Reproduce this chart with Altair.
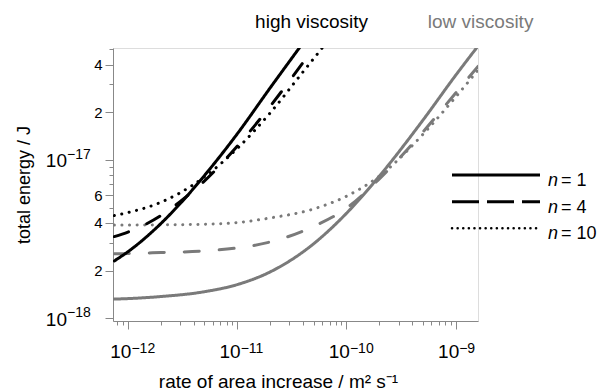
import altair as alt
import pandas as pd

FONT = "Liberation Sans"

# ---- data (x: rate of area increase m^2/s, y: total energy J)
hv_n1_x = [7.5e-13, 1e-12, 2e-12, 3e-12, 5e-12, 7e-12, 1e-11, 2e-11, 3.7e-11]
hv_n1_y = [2.3e-18, 2.63e-18, 3.96e-18, 5.29e-18, 7.95e-18, 1.06e-17, 1.46e-17, 2.85e-17, 5.1e-17]

hv_n4_x = [7.5e-13, 1e-12, 2e-12, 3e-12, 5e-12, 1e-11, 2e-11, 3e-11, 4.9e-11]
hv_n4_y = [3.28e-18, 3.5e-18, 4.45e-18, 5.45e-18, 7.35e-18, 1.22e-17, 2.18e-17, 3.15e-17, 5.0e-17]

hv_n10_x = [7.5e-13, 1e-12, 2e-12, 3e-12, 5e-12, 1e-11, 2e-11, 4e-11, 6e-11]
hv_n10_y = [4.45e-18, 4.65e-18, 5.4e-18, 6.2e-18, 7.8e-18, 1.18e-17, 1.98e-17, 3.6e-17, 5.1e-17]

lv_n1_x = [7.5e-13, 1e-12, 2e-12, 5e-12, 1e-11, 2e-11, 5e-11, 1e-10, 2e-10, 5e-10, 1e-9, 1.55e-9]
lv_n1_y = [1.32e-18, 1.33e-18, 1.37e-18, 1.47e-18, 1.63e-18, 1.96e-18, 2.95e-18, 4.6e-18, 7.9e-18, 1.78e-17, 3.43e-17, 5.1e-17]

lv_n4_x = [7.5e-13, 1e-12, 2e-12, 5e-12, 1e-11, 2e-11, 5e-11, 1e-10, 2e-10, 5e-10, 1e-9, 1.6e-9]
lv_n4_y = [2.55e-18, 2.56e-18, 2.6e-18, 2.66e-18, 2.78e-18, 3.03e-18, 3.8e-18, 4.95e-18, 7.6e-18, 1.5e-17, 2.65e-17, 3.9e-17]

lv_n10_x = [7.5e-13, 1e-12, 2e-12, 5e-12, 1e-11, 2e-11, 5e-11, 1e-10, 2e-10, 5e-10, 1e-9, 1.6e-9]
lv_n10_y = [3.88e-18, 3.88e-18, 3.89e-18, 3.92e-18, 4.02e-18, 4.3e-18, 4.9e-18, 5.9e-18, 7.9e-18, 1.45e-17, 2.5e-17, 3.7e-17]

n_values = ["1", "4", "10"]
viscosity = ["high viscosity", "low viscosity"]
viscosity_label_x = [4.8e-11, 1.69e-9]

x_decades = [1e-12, 1e-11, 1e-10, 1e-9]
x_decade_exp = ["−12", "−11", "−10", "−9"]
y_decades = [1e-18, 1e-17]
y_decade_exp = ["−18", "−17"]

x_domain = [7.3e-13, 1.6e-9]
y_domain = [9.6e-19, 5.1e-17]

# ---- build tables
rows = []
series = {
    ("high viscosity", "1"): (hv_n1_x, hv_n1_y),
    ("high viscosity", "4"): (hv_n4_x, hv_n4_y),
    ("high viscosity", "10"): (hv_n10_x, hv_n10_y),
    ("low viscosity", "1"): (lv_n1_x, lv_n1_y),
    ("low viscosity", "4"): (lv_n4_x, lv_n4_y),
    ("low viscosity", "10"): (lv_n10_x, lv_n10_y),
}
for (v, n), (xs, ys) in series.items():
    for i, (xv, yv) in enumerate(zip(xs, ys)):
        rows.append({"visc": v, "n": n, "x": xv, "y": yv, "order": i})
df = pd.DataFrame(rows)

xscale = alt.Scale(type="log", domain=x_domain, nice=False)
yscale = alt.Scale(type="log", domain=y_domain, nice=False)

dash_scale = alt.Scale(domain=n_values, range=[[1, 0], [15, 20], [0.1, 7.5]])
color_scale = alt.Scale(domain=viscosity, range=["#000000", "#7a7a7a"])

MANT = "round(datum.value / pow(10, floor(log(datum.value) / LN10 + 1e-6)))"

x_ticks = [float(f"{m}e{e}") for e in range(-13, -8) for m in range(1, 10)]
x_ticks = [t for t in x_ticks if x_domain[0] <= t <= x_domain[1]]
y_ticks = [float(f"{m}e{e}") for e in range(-19, -16) for m in range(1, 10)]
y_ticks = [t for t in y_ticks if y_domain[0] <= t <= y_domain[1] * 1.001]

y_label_expr = f"({MANT} == 2 || {MANT} == 4 || {MANT} == 6) ? '' + {MANT} : ''"

x_axis = alt.Axis(
    values=x_ticks, labels=False, grid=False,
    title="rate of area increase / m² s⁻¹",
    tickSize={"condition": {"test": f"{MANT} == 1", "value": 8}, "value": 4},
    titleFontSize=19, titleFontWeight="normal", titleX=165, titleY=66,
    titleBaseline="alphabetic", titleAlign="center",
)
y_axis = alt.Axis(
    values=y_ticks, labelExpr=y_label_expr, grid=False,
    title="total energy / J",
    tickSize={"condition": {"test": f"{MANT} == 1 || {MANT} == 2 || {MANT} == 4 || {MANT} == 6",
                            "value": 8}, "value": 4},
    labelFontSize=15, labelOverlap=False, labelFlush=False, labelPadding=3,
    titleFontSize=18, titleFontWeight="normal", titleX=-84, titleY=136.5,
    titleBaseline="alphabetic", titleAlign="center", titleAngle=270,
)

base = alt.Chart(df)


def lines(v):
    return base.transform_filter(alt.datum.visc == v).mark_line(
        strokeWidth=3, strokeCap="round", clip=True, interpolate="monotone"
    ).encode(
        x=alt.X("x:Q", scale=xscale, axis=x_axis),
        y=alt.Y("y:Q", scale=yscale, axis=y_axis),
        color=alt.Color("visc:N", scale=color_scale, legend=None),
        strokeDash=alt.StrokeDash("n:N", scale=dash_scale, legend=None),
        detail="n:N",
        order="order:Q",
    )


lab_df = pd.DataFrame({"label": viscosity, "x": viscosity_label_x})
vlabels = alt.Chart(lab_df).mark_text(
    fontSize=19, font=FONT, baseline="middle", align="center"
).encode(
    x=alt.X("x:Q", scale=xscale),
    y=alt.value(-26),
    text="label:N",
    color=alt.Color("label:N", scale=alt.Scale(domain=viscosity, range=["#000000", "#a8a8a8"]), legend=None),
)

# decade tick labels with raised exponents
xd = pd.DataFrame({"x": x_decades, "e": x_decade_exp})
x_ten = alt.Chart(xd).mark_text(fontSize=19, font=FONT, align="right", baseline="alphabetic",
                                dx=3.5, color="#000").encode(
    x=alt.X("x:Q", scale=xscale), y=alt.value(310), text=alt.value("10"))
x_exp = alt.Chart(xd).mark_text(fontSize=14, font=FONT, align="left", baseline="alphabetic",
                                dx=3.5, color="#000").encode(
    x=alt.X("x:Q", scale=xscale), y=alt.value(305), text="e:N")

yd = pd.DataFrame({"y": y_decades, "e": y_decade_exp})
y_ten = alt.Chart(yd).mark_text(fontSize=19, font=FONT, align="right", baseline="alphabetic",
                                dy=7.5, color="#000").encode(
    y=alt.Y("y:Q", scale=yscale), x=alt.value(-46), text=alt.value("10"))
y_exp = alt.Chart(yd).mark_text(fontSize=14, font=FONT, align="left", baseline="alphabetic",
                                dy=-1.3, color="#000").encode(
    y=alt.Y("y:Q", scale=yscale), x=alt.value(-46), text="e:N")

# manual legend (pixel positions relative to the plot area)
legend_dash = [[1, 0], [27, 8], [0.1, 5.5]]
legend_rows_y = [127, 153.7, 180.3]
legend_layers = []
for n, dash, ly in zip(n_values, legend_dash, legend_rows_y):
    ldf = pd.DataFrame({"n": [n]})
    legend_layers.append(
        alt.Chart(ldf).mark_rule(stroke="#000000", strokeWidth=3 if n != "10" else 2.5,
                                 strokeDash=dash, strokeCap="butt" if n != "10" else "round").encode(
            x=alt.value(339), x2=alt.value(427), y=alt.value(ly)
        )
    )
    legend_layers.append(
        alt.Chart(ldf).mark_text(fontSize=18, font=FONT, fontStyle="italic", align="left",
                                 baseline="alphabetic", color="#000").encode(
            x=alt.value(435), y=alt.value(ly + 11), text=alt.value("n")
        )
    )
    legend_layers.append(
        alt.Chart(ldf).transform_calculate(lbl="'= ' + datum.n").mark_text(
            fontSize=18, font=FONT, align="left", baseline="alphabetic", color="#000").encode(
            x=alt.value(448), y=alt.value(ly + 11), text="lbl:N"
        )
    )

chart = alt.layer(
    lines("low viscosity"), lines("high viscosity"), vlabels,
    x_ten, x_exp, y_ten, y_exp, *legend_layers
).properties(
    width=365, height=273,
    autosize=alt.AutoSizeParams(type="none"),
    padding={"left": 105, "top": 40, "right": 119, "bottom": 74},
).configure_view(stroke=None).configure_axis(
    domainColor="#000", domainWidth=1.5, tickColor="#000", tickWidth=1.5,
    labelColor="#000", titleColor="#000", labelFont=FONT, titleFont=FONT,
    titleFontWeight="normal",
).configure(font=FONT)

chart.save("out.html", embed_options={"renderer": "svg", "actions": False})
